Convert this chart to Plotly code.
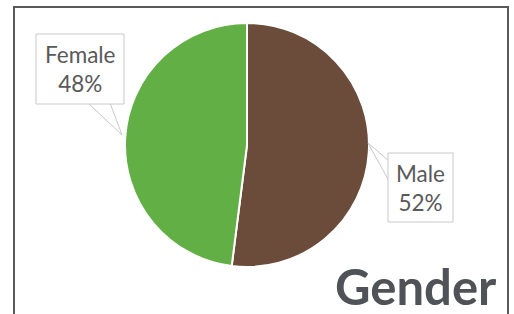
import plotly.graph_objects as go

labels = ["Male", "Female"]
values = [52, 48]
colors = ["#6B4B3A", "#62AF46"]
title_text = "Gender"

W, H = 514, 314
def px(x): return x / W
def py(y): return 1 - y / H

fig = go.Figure()
fig.add_trace(go.Pie(
    labels=labels, values=values, sort=False, direction="clockwise", rotation=0,
    marker=dict(colors=colors, line=dict(color="white", width=2)),
    textinfo="none", hoverinfo="label+percent", showlegend=False,
    domain=dict(x=[px(125), px(369)], y=[py(267), py(23)]),
))

# callout boxes: (box x0, y0, x1, y1), pointer base points, tip
callouts = {
    "Female": dict(box=(36, 34, 124, 104), ptr=[(88, 103), (110, 103)], tip=(122, 135)),
    "Male": dict(box=(388, 153, 453, 222), ptr=[(389, 161), (389, 181)], tip=(368, 143)),
}
total = sum(values)
shapes = []
annotations = []
for lab, val in zip(labels, values):
    c = callouts[lab]
    (a, b), (d, e) = c["ptr"]
    tx, ty = c["tip"]
    shapes.append(dict(type="path", xref="paper", yref="paper",
                       path=f"M {px(a)} {py(b)} L {px(tx)} {py(ty)} L {px(d)} {py(e)} Z",
                       fillcolor="white", line=dict(color="#C9C9C9", width=1), layer="above"))
    x0, y0, x1, y1 = c["box"]
    shapes.append(dict(type="rect", xref="paper", yref="paper",
                       x0=px(x0), x1=px(x1), y0=py(y1), y1=py(y0),
                       fillcolor="white", line=dict(color="#C9C9C9", width=1), layer="above"))
    annotations.append(dict(
        x=px((x0 + x1) / 2), y=py((y0 + y1) / 2), xref="paper", yref="paper",
        text=f"{lab}<br>{round(val / total * 100)}%", showarrow=False,
        font=dict(family="Lato", size=22.5, color="#595959"), align="center",
        xanchor="center", yanchor="middle"))

# border
shapes.append(dict(type="rect", xref="paper", yref="paper",
                   x0=px(14), x1=px(508), y0=py(330), y1=py(7),
                   line=dict(color="#5A5A5A", width=2), fillcolor="rgba(0,0,0,0)", layer="below"))

annotations.append(dict(x=px(499), y=py(286), xref="paper", yref="paper",
                        text=f"<b>{title_text}</b>", showarrow=False,
                        xanchor="right", yanchor="middle",
                        font=dict(family="Lato", size=49, color="#4F5357")))

fig.update_layout(width=W, height=H, margin=dict(l=0, r=0, t=0, b=0),
                  paper_bgcolor="white", plot_bgcolor="white",
                  shapes=shapes, annotations=annotations)
fig.write_html("out.html", config={"displayModeBar": False},
               post_script="document.body.style.margin='0';")
